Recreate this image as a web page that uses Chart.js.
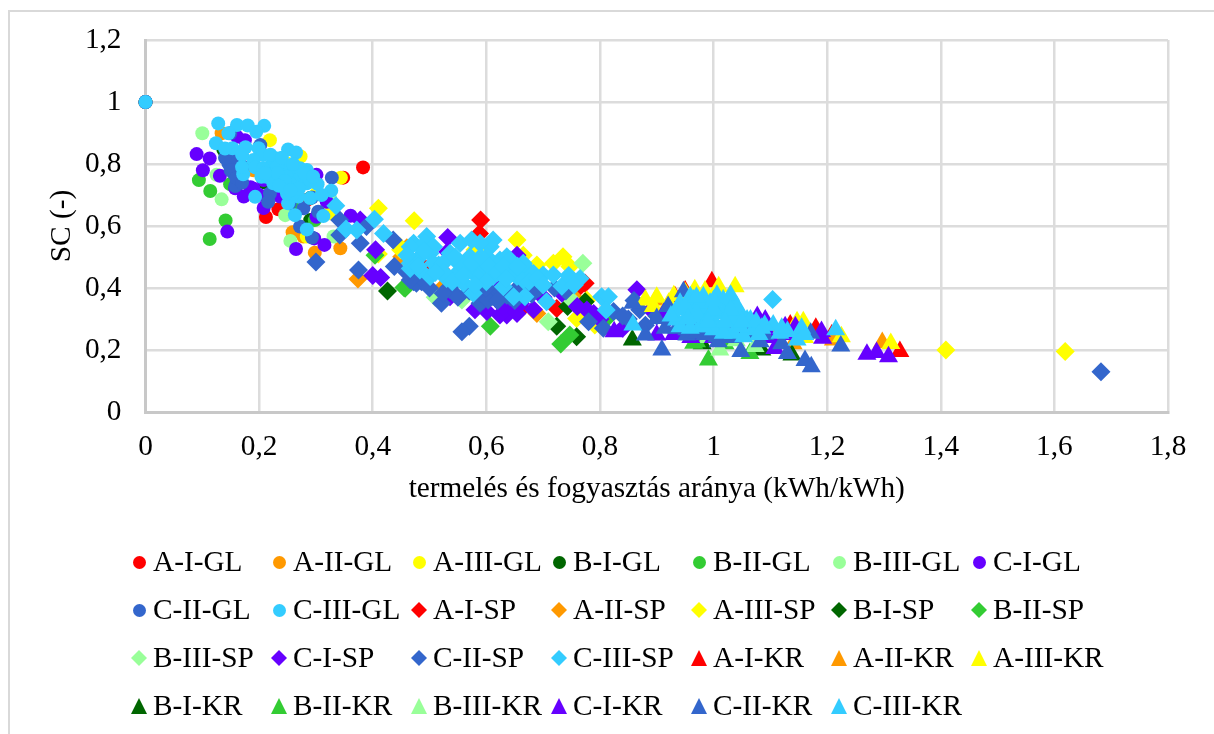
<!DOCTYPE html>
<html>
<head>
<meta charset="utf-8">
<title>SC</title>
<script src="https://cdn.jsdelivr.net/npm/chart.js@4/dist/chart.umd.min.js"></script>
<style>
  html, body { margin: 0; padding: 0; background: #fff; }
  #wrap { position: relative; width: 1214px; height: 734px; overflow: hidden; }
  #frame { position: absolute; left: 8px; top: 10px; width: 1204px; height: 800px; border: 2px solid #d9d9d9; }
  #myChart { position: absolute; left: 0; top: 0; }
  #legend { position: absolute; left: 0; top: 0; font-family: "Liberation Serif", serif; font-size: 29.3px; color: #000; }
  .item { position: absolute; white-space: nowrap; line-height: 30px; }
  .mark { position: absolute; }
</style>
</head>
<body>
<div id="wrap">
  <div id="frame"></div>
  <canvas id="myChart" width="1214" height="734"></canvas>
  <div id="legend"></div>
</div>
<script>
// values, [production/consumption ratio, SC]
const aIGL = [[0,1],[.383,.789],[.212,.629],[.234,.654],[.348,.756],[.284,.684],[.254,.695],[.225,.748]];
const aIIGL = [[0,1],[.134,.899],[.259,.580],[.298,.514],[.343,.528],[.278,.566],[.19,.78]];
const aIIIGL = [[0,1],[.219,.877],[.273,.824],[.344,.756],[.301,.705],[.284,.566],[.325,.641],[.249,.802]];
const bIGL = [[0,1],[.137,.847],[.16,.80],[.21,.74],[.29,.69],[.290,.619]];
const bIIGL = [[0,1],[.094,.748],[.114,.713],[.141,.618],[.113,.558],[.149,.735],[.298,.619],[.26,.66]];
const bIIIGL = [[0,1],[.100,.899],[.134,.686],[.255,.552],[.246,.635],[.331,.566],[.125,.765],[.325,.689]];
const cIGL = [[0,1],[.090,.832],[.113,.818],[.101,.780],[.131,.762],[.144,.582],[.265,.526],[.315,.539],[.297,.560],
  [.361,.633],[.173,.695],[.158,.722],[.185,.725],[.208,.658],[.175,.877],[.161,.888],[.319,.678],[.301,.765],
  [.208,.748],[.237,.695],[.301,.630],[.19,.72],[.20,.70],[.17,.74]];
const cIIGL = [[0,1],[.328,.756],[.293,.692],[.146,.802],[.158,.729],[.161,.818],[.149,.899],[.202,.861],[.219,.705],
  [.216,.678],[.278,.657],[.304,.646],[.272,.598],[.293,.563],[.172,.791],[.155,.770],[.254,.673],[.15,.78],[.14,.82],[.16,.755],[.17,.74]];
const cIIIGL = [[0,1],[.128,.931],[.161,.926],[.180,.924],[.209,.923],[.146,.899],[.195,.904],[.124,.867],[.153,.851],
  [.176,.854],[.199,.851],[.207,.829],[.190,.813],[.193,.789],[.172,.767],[.231,.818],[.219,.791],[.243,.786],
  [.251,.847],[.265,.837],[.284,.781],[.213,.759],[.237,.759],[.260,.770],[.272,.759],[.225,.738],[.243,.727],
  [.266,.727],[.284,.738],[.303,.735],[.269,.695],[.251,.673],[.263,.635],[.327,.714],[.313,.632],[.284,.589],[.193,.694],
  [.232,.791],[.249,.759],[.207,.786],[.254,.738],[.272,.786],[.204,.759],[.289,.748],[.249,.705],[.232,.770],[.260,.705],
  [.22,.83],[.24,.82],[.26,.80],[.28,.77],[.295,.76],[.17,.83],[.14,.85],[.21,.77],[.245,.745],[.27,.72],[.29,.69],[.31,.70],
  [.235,.73],[.255,.715],[.17,.79]];
const aISP = [[.590,.619],[.588,.576],[.724,.334],[.774,.415],[.662,.334],[.489,.469],[.759,.394],[.52,.46]];
const aIISP = [[.374,.429],[.519,.394],[.689,.318],[.451,.501],[.753,.372],[.46,.53],[.60,.44]];
const aIIISP = [[.410,.657],[.473,.617],[.654,.555],[.735,.501],[.747,.469],[.718,.480],[.665,.506],[.689,.474],[.448,.533],
  [.580,.523],[.759,.302],[.791,.281],[.777,.361],[.449,.523],[.410,.51],[1.409,.2],[1.619,.195]];
const bISP = [[.426,.390],[.759,.243],[.724,.277],[.743,.340],[.774,.356]];
const bIISP = [[.455,.402],[.404,.506],[.731,.219],[.747,.248],[.607,.277],[.457,.399],[.589,.399],[.812,.302]];
const bIIISP = [[.709,.291],[.510,.370],[.557,.361],[.770,.480],[.747,.367]];
const cISP = [[.414,.434],[.405,.523],[.378,.619],[.532,.563],[.532,.517],[.654,.506],[.645,.334],[.636,.313],[.683,.331],
  [.601,.324],[.733,.383],[.777,.329],[.789,.318],[.865,.394],[.536,.372],[.40,.44],[.89,.33],[.654,.318],[.624,.313],[.612,.426],
  [.63,.34],[.66,.35],[.58,.33],[.70,.37],[.76,.34],[.80,.30],[.84,.27],[.92,.30],[.98,.27],[1.02,.26],[1.08,.27],[1.10,.26]];
const cIISP = [[.300,.484],[.375,.458],[.342,.619],[.342,.571],[.378,.544],[.389,.598],[.436,.555],[.438,.469],[.472,.420],
  [.486,.420],[.570,.277],[.557,.259],[.521,.351],[.477,.415],[.536,.394],[.595,.361],[.612,.372],[.636,.377],
  [.692,.399],[.780,.291],[.824,.324],[.806,.270],[.589,.351],[.665,.415],[.86,.36],[.90,.31],[1.682,.13],
  [.589,.383],[.624,.394],[.695,.404],[.536,.404],[.489,.426],[.466,.426],[.603,.361],[.524,.383],[.642,.372],
  [.55,.37],[.57,.39],[.60,.40],[.655,.40],[.68,.39],[.72,.40],[.50,.40],[.46,.45],[.62,.36],[.65,.36],[.68,.38],[.74,.39],
  [.85,.30],[.87,.33],[.84,.31],[.88,.28]];
const cIIISP = [[.403,.622],[.335,.665],[.353,.590],[.372,.587],[.419,.576],[.466,.463],[.472,.544],[.495,.566],[.466,.533],
  [.492,.544],[.501,.512],[.466,.480],[.516,.474],[.554,.544],[.574,.555],[.551,.480],[.530,.431],[.560,.415],
  [.577,.383],[.607,.533],[.595,.469],[.624,.490],[.636,.501],[.654,.437],[.668,.372],[.674,.458],[.700,.442],
  [.718,.442],[.733,.406],[.706,.356],[.765,.431],[.803,.372],[.815,.372],[.811,.329],[.630,.404],[.501,.437],
  [.612,.437],[.648,.372],[1.104,.363],
  [.483,.501],[.460,.506],[.507,.533],[.507,.480],[.483,.458],[.571,.501],[.536,.512],[.548,.447],[.524,.480],
  [.583,.437],[.566,.458],[.601,.501],[.612,.555],[.589,.544],[.642,.490],[.648,.447],[.665,.426],[.683,.447],[.665,.480],
  [.48,.47],[.49,.52],[.525,.45],[.545,.50],[.56,.47],[.575,.48],[.59,.50],[.605,.47],[.62,.45],[.63,.47],[.655,.47],
  [.675,.42],[.69,.43],[.54,.42],[.51,.45],[.56,.44],[.60,.42],[.58,.41],[.635,.43],[.70,.41],[.745,.44],[.755,.41]];
const aIKR = [[.932,.372],[.997,.420],[1.135,.281],[1.180,.270],[1.208,.248],[1.328,.195],[1.08,.29],[.95,.39]];
const aIIKR = [[.898,.361],[.98,.34],[1.10,.25],[1.211,.232],[1.297,.224],[1.14,.22]];
const aIIIKR = [[.880,.361],[.894,.340],[.921,.351],[.967,.394],[1.009,.404],[1.038,.404],[1.147,.291],[1.158,.291],[1.225,.243],
  [1.312,.221],[1.16,.24],[.90,.37],[.93,.375],[.95,.385],[.985,.39]];
const bIKR = [[.857,.232],[1.085,.200],[1.138,.184],[.98,.22]];
const bIIKR = [[.965,.222],[.991,.168],[.970,.227],[1.064,.189],[1.02,.22]];
const bIIIKR = [[1.011,.2],[1.073,.211],[.99,.24],[1.04,.23]];
const cIKR = [[.825,.259],[.900,.248],[.912,.318],[1.077,.308],[1.091,.297],[1.108,.205],[1.126,.275],[1.144,.275],[1.192,.238],
  [1.270,.186],[1.287,.192],[1.308,.178],[.941,.254],[.953,.259],[.994,.254],[.93,.25],[.96,.24],[1.00,.24],[1.05,.25],[1.10,.24],
  [1.13,.25],[1.16,.25],[1.19,.26]];
const cIIKR = [[.858,.351],[.880,.248],[.900,.302],[.909,.200],[.915,.270],[.947,.388],[.953,.265],[1.006,.243],[1.048,.195],
  [1.082,.227],[1.130,.189],[1.161,.166],[1.171,.254],[1.172,.146],[1.224,.213],[.953,.248],[.965,.258],[.970,.254],[1.008,.227],
  [.985,.25],[1.03,.24],[1.06,.25],[1.09,.25],[.925,.30],[.935,.27],[.97,.28],[1.12,.22],[1.04,.26],[.92,.34]];
const cIIIKR = [[.858,.281],[.947,.329],[.965,.361],[.941,.351],[.959,.372],[.982,.372],[1.029,.351],[1.006,.329],[1.047,.318],
  [1.059,.297],[1.017,.275],[.976,.275],[.953,.308],[1.000,.297],[1.035,.254],[1.070,.265],[.965,.329],[.994,.351],
  [1.029,.297],[.982,.318],[1.053,.243],[1.085,.270],[1.105,.281],[1.117,.254],[1.147,.232],[1.155,.270],[1.215,.265],[1.03,.377],
  [.935,.297],[.959,.351],[.970,.308],[.941,.340],[.941,.275],[.959,.340],[.976,.351],[1.006,.377],[1.017,.361],[1.041,.340],
  [1.065,.297],[.970,.318],[.994,.313],[1.017,.318],[1.035,.297],[1.047,.275],[1.000,.265],[1.017,.254],[.959,.270],[.982,.275],
  [.925,.31],[1.075,.29],[1.09,.28],[1.13,.26],[1.16,.25],[1.08,.25],[1.12,.27],[1.00,.33],[1.03,.33],[.95,.34],[1.00,.36],[.97,.37],
  [.955,.30],[.99,.29],[1.02,.29],[1.05,.29]];

const seriesNames = ["A-I-GL","A-II-GL","A-III-GL","B-I-GL","B-II-GL","B-III-GL","C-I-GL","C-II-GL","C-III-GL",
  "A-I-SP","A-II-SP","A-III-SP","B-I-SP","B-II-SP","B-III-SP","C-I-SP","C-II-SP","C-III-SP",
  "A-I-KR","A-II-KR","A-III-KR","B-I-KR","B-II-KR","B-III-KR","C-I-KR","C-II-KR","C-III-KR"];
const seriesValues = [aIGL,aIIGL,aIIIGL,bIGL,bIIGL,bIIIGL,cIGL,cIIGL,cIIIGL,
  aISP,aIISP,aIIISP,bISP,bIISP,bIIISP,cISP,cIISP,cIIISP,
  aIKR,aIIKR,aIIIKR,bIKR,bIIKR,bIIIKR,cIKR,cIIKR,cIIIKR];
const yTickLabels = ["0","0,2","0,4","0,6","0,8","1","1,2"];
const xTickLabels = ["0","0,2","0,4","0,6","0,8","1","1,2","1,4","1,6","1,8"];

const palette = ["#ff0000","#ff9900","#ffff00","#006600","#33cc33","#99ff99","#6600ff","#3366cc","#33ccff"];
const shapes = ["circle","rectRot","triangle"];
const radii = [7,9.5,11];
const serif = "'Liberation Serif', serif";

let datasets = [];
for (let i = 0; i < seriesNames.length; i++) {
  const kind = Math.floor(i / 9);
  datasets.push({
    label: seriesNames[i],
    data: seriesValues[i].map(function (p) { return { x: p[0], y: p[1] }; }),
    backgroundColor: palette[i % 9],
    borderWidth: 0,
    pointStyle: shapes[kind],
    pointRadius: radii[kind],
    pointHoverRadius: radii[kind],
    clip: false,
    // later series sit on top
    order: seriesNames.length - i,
  });
}

new Chart(document.getElementById("myChart"), {
  type: "scatter",
  data: { datasets: datasets },
  options: {
    responsive: false,
    animation: false,
    layout: { padding: { left: 45, right: 46, top: 40, bottom: 227 } },
    plugins: { legend: { display: false }, tooltip: { enabled: false } },
    scales: {
      x: {
        min: 0, max: 1.8,
        afterFit: function (scale) { scale.height = 95; },
        afterBuildTicks: function (scale) {
          scale.ticks = xTickLabels.map(function (t, i) { return { value: i * 0.2 }; });
        },
        ticks: {
          autoSkip: false, maxRotation: 0, padding: 18, color: "#000",
          font: { family: serif, size: 29.3 },
          callback: function (v, i) { return xTickLabels[i]; },
        },
        grid: { color: "#dcdcdc", lineWidth: 2.5, drawTicks: false },
        border: { color: "#c8c8c8", width: 3 },
        title: { display: true, text: "termelés és fogyasztás aránya (kWh/kWh)", color: "#000",
          font: { family: serif, size: 29.3 }, padding: { top: 0, bottom: 0 } },
      },
      y: {
        min: 0, max: 1.2,
        afterFit: function (scale) {
          scale.width = 100.5;
          // tick label overhang would push the plot top down
          scale.paddingTop = 0;
          scale.paddingBottom = 0;
        },
        afterBuildTicks: function (scale) {
          scale.ticks = yTickLabels.map(function (t, i) { return { value: i * 0.2 }; });
        },
        ticks: {
          autoSkip: false, padding: 24, color: "#000",
          font: { family: serif, size: 29.3 },
          callback: function (v, i) { return yTickLabels[i]; },
        },
        grid: { color: "#dcdcdc", lineWidth: 2.5, drawTicks: false },
        border: { color: "#c8c8c8", width: 3 },
        title: { display: true, text: "SC (-)", color: "#000",
          font: { family: serif, size: 29.3 }, padding: { top: 0, bottom: 0 } },
      },
    },
  },
});

// legend grid under the plot
const legendBox = document.getElementById("legend");
seriesNames.forEach(function (name, i) {
  const col = i % 7, row = Math.floor(i / 7);
  const kind = Math.floor(i / 9);
  const cx = 139 + col * 140, cy = 562 + row * 48;
  const item = document.createElement("div");
  item.className = "item";
  item.style.left = cx + 14 + "px";
  item.style.top = cy - 16 + "px";
  item.textContent = name;
  legendBox.appendChild(item);
  const mark = document.createElement("div");
  mark.className = "mark";
  mark.style.background = palette[i % 9];
  const size = [13, 16, 16][kind];
  mark.style.width = size + "px";
  mark.style.height = size + "px";
  mark.style.left = cx - size / 2 + "px";
  mark.style.top = cy - size / 2 + "px";
  if (kind === 0) mark.style.borderRadius = "50%";
  if (kind === 1) mark.style.clipPath = "polygon(50% 0, 100% 50%, 50% 100%, 0 50%)";
  if (kind === 2) mark.style.clipPath = "polygon(50% 0, 100% 100%, 0 100%)";
  legendBox.appendChild(mark);
});
</script>
</body>
</html>
